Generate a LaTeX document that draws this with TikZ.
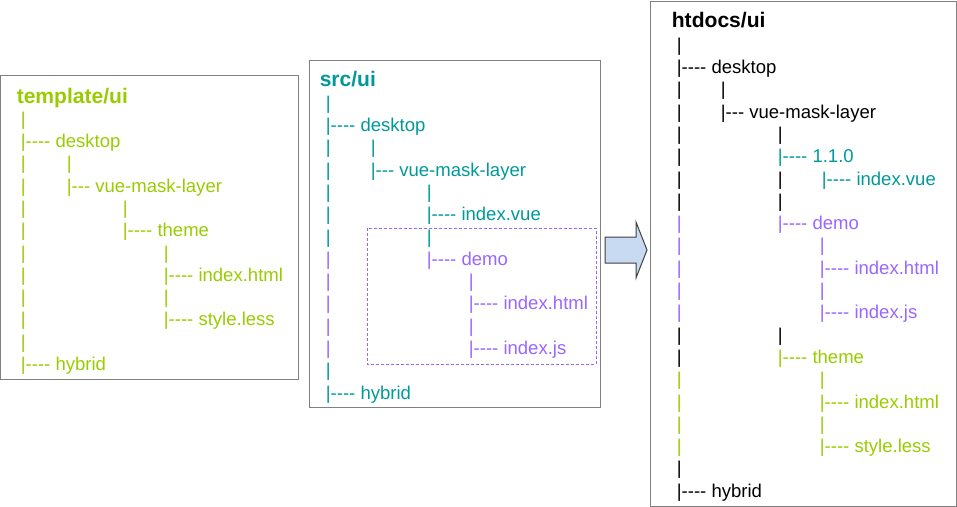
\documentclass[tikz,border=0pt]{standalone}
\usepackage{fontspec}
\setmainfont{Liberation Sans}[Ligatures=TeXOff]
\definecolor{tplgreen}{RGB}{153,204,0}
\definecolor{srcteal}{RGB}{0,153,153}
\definecolor{demopurple}{RGB}{153,102,255}
\definecolor{boxgrey}{RGB}{128,128,128}
\definecolor{arrowfill}{RGB}{200,218,241}
\definecolor{arrowedge}{RGB}{64,64,64}
\tikzset{
  entry/.style={anchor=base west, inner sep=0pt, font=\fontsize{13.9}{16}\selectfont},
  rootname/.style={anchor=base west, inner sep=0pt, font=\fontsize{15.8}{18}\selectfont\bfseries},
  folder/.style={draw=boxgrey, line width=0.75pt},
}

\begin{document}
\begin{tikzpicture}[x=0.75pt,y=-0.75pt]
    \useasboundingbox (0,0) rectangle (957,507);

    % template/ui
    \draw[folder] (0.5,75) rectangle (298.5,379);
    \node[rootname, tplgreen] (tpl) at (16.5,103) {template/ui};
    \foreach \x/\r/\t [count=\i] in {23/1/|, 23/2/|---- desktop,
        23/3/|, 69/3/|, 23/4/|, 69/4/|--- vue-mask-layer,
        23/5/|, 125/5/|, 23/6/|, 125/6/|---- theme,
        23/7/|, 166/7/|, 23/8/|, 166/8/|---- index.html,
        23/9/|, 166/9/|, 23/10/|, 166/10/|---- style.less,
        23/11/|, 23/12/|---- hybrid}
      \node[entry, tplgreen] (tpl-\i) at ({\x-2.4},{102.9+22.3*\r}) {\t};

    % src/ui
    \draw[folder] (309,60) rectangle (600,407);
    \draw[demopurple, line width=0.75pt, dash pattern=on 2.25pt off 1.5pt]
      (367,228) rectangle (596,364);
    \node[rootname, srcteal] (src) at (319.5,86) {src/ui};
    \foreach \x/\r/\c/\t [count=\i] in {328/1/srcteal/|, 328/2/srcteal/|---- desktop,
        328/3/srcteal/|, 373/3/srcteal/|, 328/4/srcteal/|, 373/4/srcteal/|--- vue-mask-layer,
        328/5/srcteal/|, 429/5/srcteal/|, 328/6/srcteal/|, 429/6/srcteal/|---- index.vue,
        328/7/srcteal/|, 429/7/srcteal/|, 328/8/demopurple/|, 429/8/demopurple/|---- demo,
        328/9/demopurple/|, 471/9/demopurple/|, 328/10/demopurple/|, 471/10/demopurple/|---- index.html,
        328/11/demopurple/|, 471/11/demopurple/|, 328/12/demopurple/|, 471/12/demopurple/|---- index.js,
        328/13/srcteal/|, 328/14/srcteal/|---- hybrid}
      \node[entry, \c] (src-\i) at ({\x-2.4},{86.9+22.3*\r}) {\t};

    % arrow
    \draw[draw=arrowedge, fill=arrowfill, line width=0.75pt]
      (605,237) -- (636,237) -- (636,222) -- (647,250) -- (636,278) -- (636,263) -- (605,263) -- cycle;

    % htdocs/ui
    \draw[folder] (650,1) rectangle (956,506);
    \node[rootname, black] (out) at (671.6,27) {htdocs/ui};
    \foreach \x/\r/\c/\t [count=\i] in {679/1/black/|, 679/2/black/|---- desktop,
        679/3/black/|, 723/3/black/|, 679/4/black/|, 723/4/black/|--- vue-mask-layer,
        679/5/black/|, 780/5/black/|, 679/6/black/|, 780/6/srcteal/|---- 1.1.0,
        679/7/black/|, 780/7/black/|, 824/7/srcteal/|---- index.vue,
        679/8/black/|, 780/8/black/|, 679/9/demopurple/|, 780/9/demopurple/|---- demo,
        679/10/demopurple/|, 822/10/demopurple/|, 679/11/demopurple/|, 822/11/demopurple/|---- index.html,
        679/12/demopurple/|, 822/12/demopurple/|, 679/13/demopurple/|, 822/13/demopurple/|---- index.js,
        679/14/black/|, 780/14/black/|, 679/15/black/|, 780/15/tplgreen/|---- theme,
        679/16/tplgreen/|, 822/16/tplgreen/|, 679/17/tplgreen/|, 822/17/tplgreen/|---- index.html,
        679/18/tplgreen/|, 822/18/tplgreen/|, 679/19/tplgreen/|, 822/19/tplgreen/|---- style.less,
        679/20/black/|, 679/21/black/|---- hybrid}
      \node[entry, \c] (out-\i) at ({\x-2.4},{28.9+22.3*\r}) {\t};
\end{tikzpicture}
\end{document}
